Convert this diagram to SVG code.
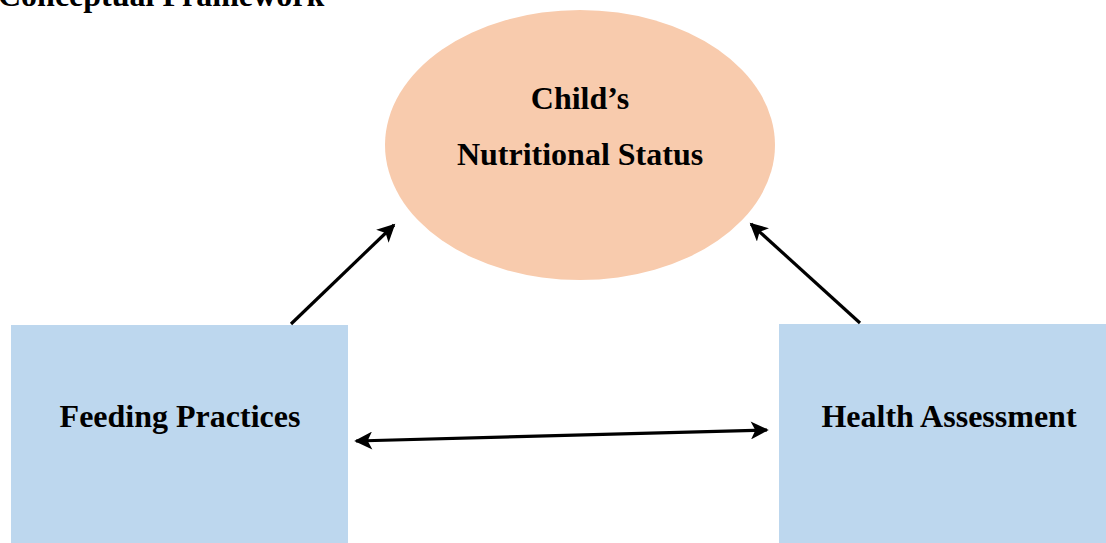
<svg xmlns="http://www.w3.org/2000/svg" width="1106" height="543" viewBox="0 0 1106 543">
<style>
text{font-family:"Liberation Serif","Times New Roman",serif;font-weight:bold;fill:#000}
.lbl{font-size:32px;text-anchor:middle}
.box{fill:#BDD7EE}
.conn{stroke:#000;stroke-width:3.2;fill:none}
</style>
<defs>
<marker id="ah" viewBox="0 0 10 10" refX="9" refY="5" markerWidth="6.4" markerHeight="5.6" orient="auto-start-reverse" markerUnits="strokeWidth">
<path d="M0,0 L10,5 L0,10 L2.5,5 Z" fill="#000"/>
</marker>
</defs>
<rect width="1106" height="543" fill="#fff"/>
<text x="-2" y="6" style="font-size:32px">Conceptual Framework</text>
<g id="node-status">
<ellipse cx="580" cy="145" rx="195" ry="135" fill="#F8CBAD"/>
<text class="lbl" x="580" y="109">Child’s</text>
<text class="lbl" x="580" y="165">Nutritional Status</text>
</g>
<g id="node-feeding">
<rect class="box" x="11" y="325" width="337" height="220"/>
<text class="lbl" x="180" y="427">Feeding Practices</text>
</g>
<g id="node-health">
<rect class="box" x="779" y="324" width="330" height="221"/>
<text class="lbl" x="949" y="427">Health Assessment</text>
</g>
<g id="connectors">
<line class="conn" x1="291" y1="324" x2="394" y2="225" marker-end="url(#ah)"/>
<line class="conn" x1="860" y1="323" x2="751" y2="224" marker-end="url(#ah)"/>
<line class="conn" x1="356" y1="441" x2="767" y2="430" marker-start="url(#ah)" marker-end="url(#ah)"/>
</g>
</svg>
